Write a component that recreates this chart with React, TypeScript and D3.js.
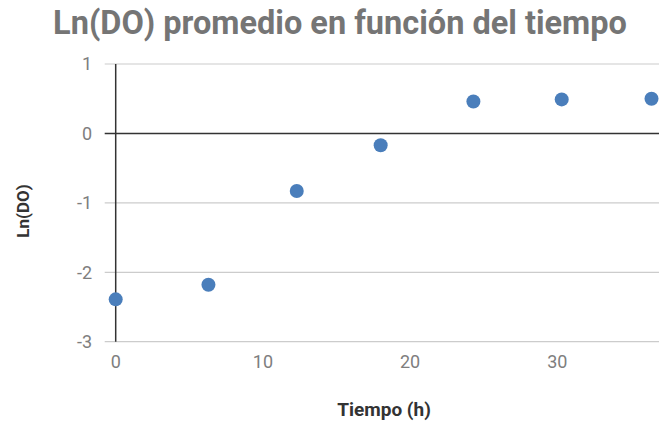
import React, { useEffect, useRef } from "react";
import * as d3 from "d3";

const timeHours = [0, 6.3, 12.3, 18.0, 24.3, 30.3, 36.4];
const lnDO = [-2.39, -2.18, -0.83, -0.17, 0.46, 0.49, 0.5];
const yTicks = [1, 0, -1, -2, -3];
const xTicks = [0, 10, 20, 30];
const title = "Ln(DO) promedio en función del tiempo";
const xTitle = "Tiempo (h)";
const yTitle = "Ln(DO)";

const W = 659;
const H = 423;

export default function App() {
  const ref = useRef<SVGSVGElement>(null);
  useEffect(() => {
    const svg = d3.select(ref.current);
    svg.selectAll("*").remove();
    const left = 115.7;
    const x = d3.scaleLinear().domain([0, 10]).range([left, left + 147.2]);
    const y = d3.scaleLinear().domain([1, -3]).range([64, 341.7]);
    const font = "Roboto, 'Noto Sans', sans-serif";
    const xEnd = W;

    // gridlines
    svg.append("g")
      .selectAll("line")
      .data(yTicks)
      .join("line")
      .attr("x1", left - 11)
      .attr("x2", xEnd)
      .attr("y1", (d) => y(d))
      .attr("y2", (d) => y(d))
      .attr("stroke", (d) => (d === 0 ? "#333333" : "#cccccc"))
      .attr("stroke-width", (d) => (d === 0 ? 1.5 : 1.2));

    // y axis line
    svg.append("line")
      .attr("x1", left).attr("x2", left)
      .attr("y1", y(1)).attr("y2", y(-3))
      .attr("stroke", "#333333").attr("stroke-width", 1.5);

    // y tick labels
    svg.append("g")
      .selectAll("text")
      .data(yTicks)
      .join("text")
      .attr("x", 92)
      .attr("y", (d) => y(d))
      .attr("dy", "0.36em")
      .attr("text-anchor", "end")
      .attr("font-family", font)
      .attr("font-weight", 400)
      .attr("font-size", 18)
      .attr("fill", "#7e7e7e")
      .text((d) => String(d));

    // x tick labels
    svg.append("g")
      .selectAll("text")
      .data(xTicks)
      .join("text")
      .attr("x", (d) => x(d))
      .attr("y", 367.5)
      .attr("text-anchor", "middle")
      .attr("font-family", font)
      .attr("font-weight", 400)
      .attr("font-size", 18)
      .attr("fill", "#7e7e7e")
      .text((d) => String(d));

    // points
    svg.append("g")
      .selectAll("circle")
      .data(timeHours.map((t, i) => [t, lnDO[i]]))
      .join("circle")
      .attr("cx", (d) => x(d[0]))
      .attr("cy", (d) => y(d[1]))
      .attr("r", 7)
      .attr("fill", "#4a7ebb");

    // title
    svg.append("text")
      .attr("x", 340)
      .attr("y", 33.5)
      .attr("text-anchor", "middle")
      .attr("font-family", font)
      .attr("font-weight", "bold")
      .attr("font-size", 32.5)
      .attr("fill", "#757575")
      .text(title);

    // x title
    svg.append("text")
      .attr("x", 384)
      .attr("y", 416)
      .attr("text-anchor", "middle")
      .attr("font-family", font)
      .attr("font-weight", "bold")
      .attr("font-size", 19)
      .attr("fill", "#333333")
      .text(xTitle);

    // y title
    svg.append("text")
      .attr("transform", `translate(29, 211) rotate(-90)`)
      .attr("text-anchor", "middle")
      .attr("font-family", font)
      .attr("font-weight", "bold")
      .attr("font-size", 17)
      .attr("fill", "#333333")
      .text(yTitle);
  }, []);
  return (
    <svg
      ref={ref}
      width={W}
      height={H}
      style={{ position: "absolute", left: 0, top: 0, display: "block", background: "#fff" }}
    />
  );
}
